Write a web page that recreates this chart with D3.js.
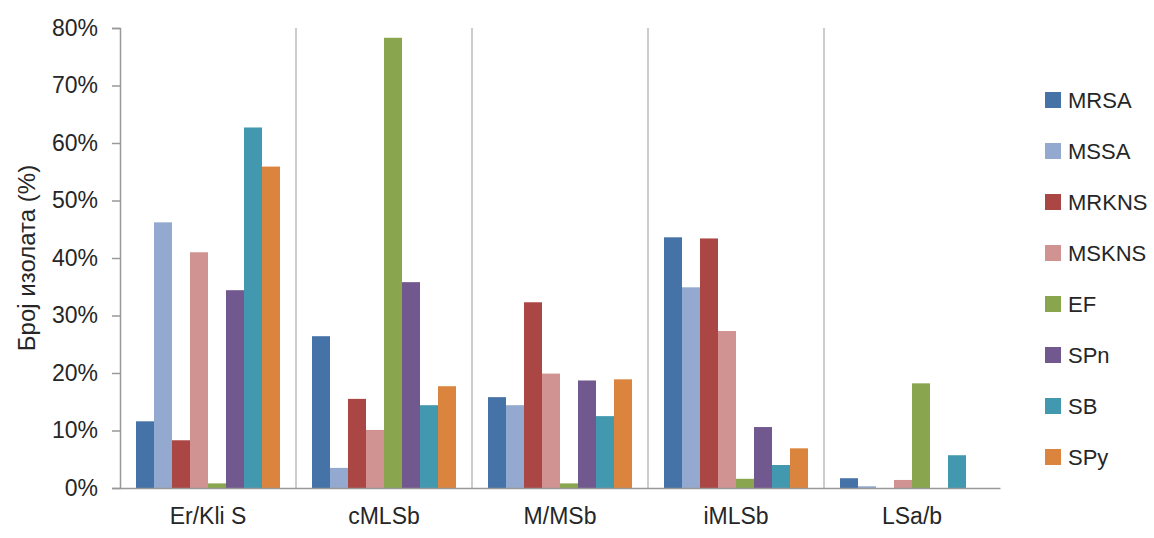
<!DOCTYPE html>
<html><head><meta charset="utf-8">
<script src="https://cdn.jsdelivr.net/npm/d3@7"></script>
<style>
html,body{margin:0;padding:0;background:#fff;}
text{font-family:"Liberation Sans",Arial,sans-serif;fill:#262626;}
</style></head>
<body>
<svg id="chart" width="1154" height="538"></svg>
<script>
const categories = ["Er/Kli S","cMLSb","M/MSb","iMLSb","LSa/b"];
const seriesNames = ["MRSA","MSSA","MRKNS","MSKNS","EF","SPn","SB","SPy"];
const seriesColors = ["#4572A7","#93A9CF","#AA4643","#D09392","#89A54E","#71588F","#4198AF","#DB843D"];
// values per series, in category order (%)
const MRSA  = [11.6, 26.4, 15.8, 43.6, 1.7];
const MSSA  = [46.2, 3.5, 14.4, 34.9, 0.3];
const MRKNS = [8.3, 15.5, 32.3, 43.4, 0];
const MSKNS = [41.0, 10.1, 19.9, 27.3, 1.4];
const EF    = [0.8, 78.3, 0.8, 1.6, 18.2];
const SPn   = [34.4, 35.8, 18.7, 10.6, 0];
const SB    = [62.7, 14.4, 12.5, 4.0, 5.7];
const SPy   = [55.9, 17.7, 18.9, 6.9, 0];
const yTicks = [0,10,20,30,40,50,60,70,80];
const yTitle = "Број изолата (%)";

const seriesValues = [MRSA, MSSA, MRKNS, MSKNS, EF, SPn, SB, SPy];

const svg = d3.select("#chart");
const mLeft = 120, mRight = 1000, mTop = 28, mBottom = 488;

const x0 = d3.scaleBand().domain(categories).range([mLeft, mRight]).paddingInner(0).paddingOuter(0);
const x1 = d3.scaleBand().domain(seriesNames).range([16, x0.bandwidth() - 16]).padding(0);
const y = d3.scaleLinear().domain([0, 80]).range([mBottom, mTop]);

// separators between categories
svg.append("g").selectAll("line")
  .data(categories.slice(1))
  .join("line")
  .attr("x1", d => x0(d)).attr("x2", d => x0(d))
  .attr("y1", mTop).attr("y2", mBottom)
  .attr("stroke", "#bdbdbd").attr("stroke-width", 1.5);

// bars
const groups = svg.append("g").selectAll("g")
  .data(categories)
  .join("g")
  .attr("transform", d => `translate(${x0(d)},0)`);
groups.selectAll("rect")
  .data((c, ci) => seriesNames.map((s, si) => ({s, si, v: seriesValues[si][ci]})))
  .join("rect")
  .attr("x", d => x1(d.s))
  .attr("width", x1.bandwidth())
  .attr("y", d => y(d.v))
  .attr("height", d => y(0) - y(d.v))
  .attr("fill", d => seriesColors[d.si]);

// y axis
const yAxis = d3.axisLeft(y).tickValues(yTicks).tickFormat(d => d + "%").tickSize(8).tickPadding(14);
const ya = svg.append("g").attr("transform", `translate(${mLeft},0)`).call(yAxis);
ya.select(".domain").attr("stroke", "#999").attr("stroke-width", 1.5);
ya.selectAll(".tick line").attr("stroke", "#999").attr("stroke-width", 1.5);
ya.selectAll(".tick text").style("font-size", "23px").attr("fill", "#262626");

// x axis
const xAxis = d3.axisBottom(x0).tickSize(0).tickPadding(20);
const xa = svg.append("g").attr("transform", `translate(0,${mBottom})`).call(xAxis);
xa.select(".domain").attr("stroke", "#999").attr("stroke-width", 1.5);
xa.selectAll(".tick text").style("font-size", "23px").attr("fill", "#262626");

// y title
svg.append("text")
  .attr("transform", `translate(26,${(mTop + mBottom) / 2}) rotate(-90)`)
  .attr("text-anchor", "middle")
  .attr("dominant-baseline", "central")
  .style("font-size", "24px")
  .text(yTitle);

// legend
const legend = svg.append("g").selectAll("g")
  .data(seriesNames)
  .join("g")
  .attr("transform", (d, i) => `translate(1045,${100 + i * 51})`);
legend.append("rect")
  .attr("x", 0).attr("y", -8).attr("width", 16).attr("height", 16)
  .attr("fill", (d, i) => seriesColors[i]);
legend.append("text")
  .attr("x", 23).attr("y", 0)
  .attr("dominant-baseline", "central")
  .style("font-size", "22px")
  .text(d => d);
</script>
</body></html>
